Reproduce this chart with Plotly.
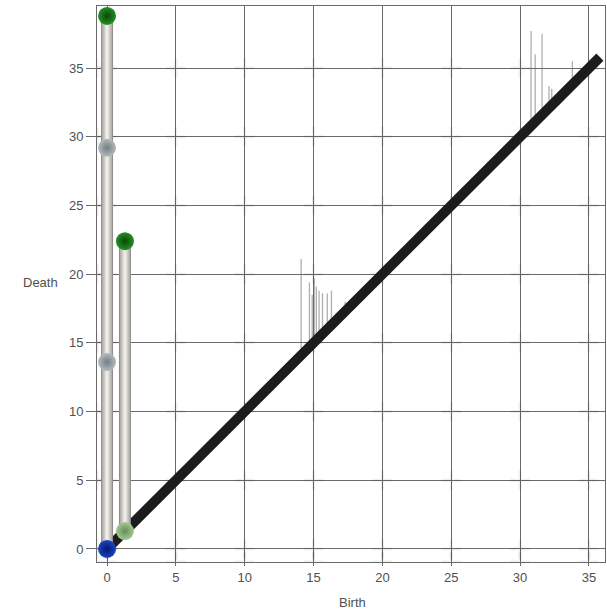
import plotly.graph_objects as go

# Persistence pairs drawn as pillars (birth, death)
pillar_birth = [0.0, 1.3]
pillar_death = [38.8, 22.4]

# Extra pairs sitting on the first pillar (birth 0)
saddle_birth = [0.0, 0.0]
saddle_death = [29.2, 13.6]

# Low-persistence pairs drawn as thin stems
thin_birth = [14.1, 14.7, 14.9, 15.05, 15.2, 15.4, 15.65, 16.0, 16.3, 17.3,
              30.8, 31.1, 31.6, 32.1, 32.3, 33.8]
thin_death = [21.1, 19.4, 18.5, 19.7, 19.1, 18.8, 18.6, 18.6, 18.8, 18.0,
              37.7, 36.0, 37.5, 33.7, 33.5, 35.5]

# Diagonal extent
diag_start = 0.0
diag_end = 35.8

# Axis ticks
tick_vals = [0, 5, 10, 15, 20, 25, 30, 35]
x_range = [-0.73, 36.17]
y_range = [-0.95, 39.52]

FONT = "Liberation Sans, Arial, sans-serif"

fig = go.Figure()

# soft glow where grid lines cross
cx, cy = [], []
for a in tick_vals:
    for b in tick_vals + [y_range[0]]:
        cx.append(a)
        cy.append(b)
for b in tick_vals:
    cx.append(x_range[0])
    cy.append(b)
fig.add_trace(go.Scatter(
    x=cx, y=cy, mode="markers", hoverinfo="skip",
    marker=dict(symbol="cross-thin", size=14,
                line=dict(width=3, color="rgba(0,0,0,0.06)"))))

# thin stems
for b, d in zip(thin_birth, thin_death):
    fig.add_trace(go.Scatter(
        x=[b, b], y=[b, d], mode="lines", hoverinfo="skip",
        line=dict(color="rgba(110,110,110,0.55)", width=1.3)))

# diagonal
fig.add_trace(go.Scatter(
    x=[diag_start, diag_end], y=[diag_start, diag_end], mode="lines",
    line=dict(color="#1c1c1c", width=10)))

# pillars with cylinder-like shading
shade = [(12, "#8f8d89"), (10, "#b4b1ac"), (7, "#cfccc7"), (4, "#e2dfda"), (1.5, "#f3f1ee")]
for b, d in zip(pillar_birth, pillar_death):
    for w, c in shade:
        fig.add_trace(go.Scatter(
            x=[b, b], y=[b, d], mode="lines", hoverinfo="skip",
            line=dict(color=c, width=w)))


def sphere(x, y, center, edge, size=18):
    fig.add_trace(go.Scatter(
        x=x, y=y, mode="markers", hoverinfo="skip",
        marker=dict(size=size, color=center,
                    gradient=dict(type="radial", color=edge),
                    line=dict(width=0))))


# saddle spheres
sphere(saddle_birth, saddle_death, "#b3babf", "#757d84")
# maxima at pillar tops
sphere(pillar_birth, pillar_death, "#259025", "#0a470a")
# minima on the diagonal
sphere([pillar_birth[0]], [pillar_birth[0]], "#1e43c0", "#041a70")
sphere([pillar_birth[1]], [pillar_birth[1]], "#a3c992", "#648c55")

axis_common = dict(
    showgrid=True, gridcolor="#6a6a6a", gridwidth=1,
    zeroline=False, showline=True, linecolor="#6a6a6a", linewidth=1,
    mirror=True, ticks="outside", tickcolor="#6a6a6a",
    tickvals=tick_vals,
    tickfont=dict(family=FONT, size=13, color="#505050"),
)

plot_w = 607 - 97 - 2
plot_h = 612 - 6 - 50

fig.update_layout(
    width=607, height=612,
    margin=dict(l=97, r=2, t=6, b=50),
    paper_bgcolor="white", plot_bgcolor="white",
    showlegend=False,
    xaxis=dict(range=x_range, ticklen=3, **axis_common),
    yaxis=dict(range=y_range, ticklen=10, **axis_common),
    annotations=[
        dict(text="Birth", x=(352 - 97) / plot_w, xref="paper",
             y=(612 - 50 - 602) / plot_h, yref="paper",
             xanchor="center", yanchor="middle", showarrow=False,
             font=dict(family=FONT, size=13, color="#505050")),
        dict(text="Death", x=(40 - 97) / plot_w, xref="paper",
             y=(612 - 50 - 282) / plot_h, yref="paper",
             xanchor="center", yanchor="middle", showarrow=False,
             font=dict(family=FONT, size=13, color="#505050")),
    ],
)

fig.write_html("out.html")
